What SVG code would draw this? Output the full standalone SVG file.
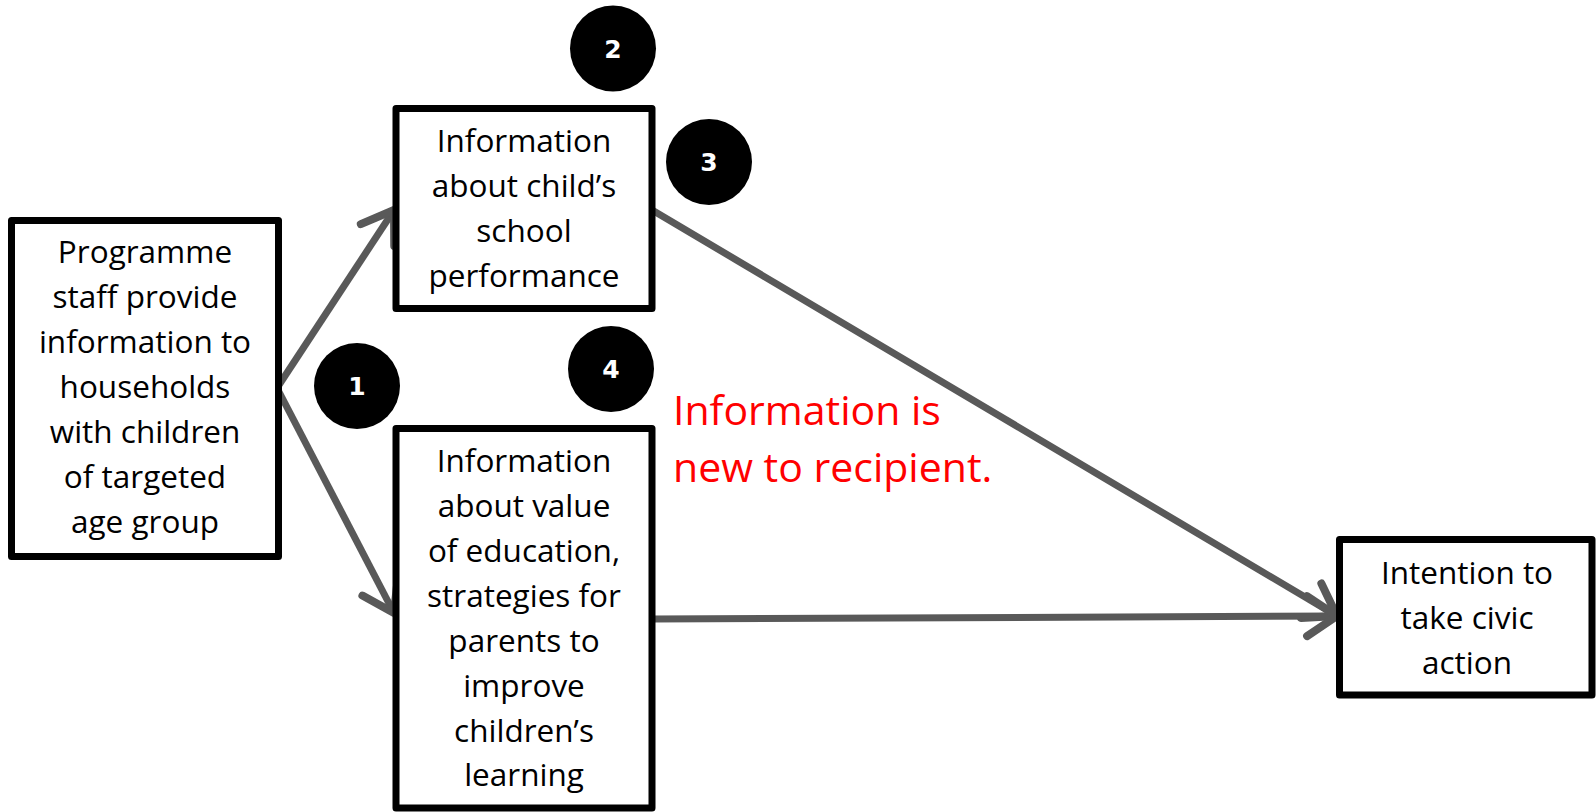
<svg xmlns="http://www.w3.org/2000/svg" width="1596" height="812" viewBox="0 0 1596 812">
<style>
.box{fill:#fff;stroke:#000;stroke-width:7;stroke-linejoin:round}
.t{font-family:"Open Sans","Liberation Sans",sans-serif;font-size:31.5px;fill:#000;text-anchor:middle}
.red{font-family:"Open Sans","Liberation Sans",sans-serif;font-size:41px;fill:#ff0000}
.conn{fill:none;stroke:#595959;stroke-width:7}
.badge{fill:#000}
.num{font-family:"DejaVu Sans",Verdana,sans-serif;font-weight:bold;font-size:25px;fill:#fff;text-anchor:middle}
</style>
<defs>
<marker id="arr" markerUnits="userSpaceOnUse" orient="auto" markerWidth="60" markerHeight="60" refX="0" refY="0" viewBox="-40 -30 50 60" overflow="visible">
<path d="M-30,-20 L0,0 L-30,20" fill="none" stroke="#595959" stroke-width="8" stroke-linecap="round" stroke-linejoin="round"/>
</marker>
</defs>
<g id="connectors">
<path class="conn" d="M277,388 L394,210" marker-end="url(#arr)"/>
<path class="conn" d="M277,388 L394,613" marker-end="url(#arr)"/>
<path class="conn" d="M652,210 L1337,616" marker-end="url(#arr)"/>
<path class="conn" d="M653,619 L1337,616" marker-end="url(#arr)"/>
</g>
<g id="node-programme">
<rect class="box" x="11.5" y="220.5" width="267" height="336"/>
<text class="t" x="145" y="263">Programme</text>
<text class="t" x="145" y="308">staff provide</text>
<text class="t" x="145" y="353">information to</text>
<text class="t" x="145" y="398">households</text>
<text class="t" x="145" y="443">with children</text>
<text class="t" x="145" y="488">of targeted</text>
<text class="t" x="145" y="533">age group</text>
</g>
<g id="node-child-performance">
<rect class="box" x="396" y="108.5" width="256" height="200"/>
<text class="t" x="524" y="151.5">Information</text>
<text class="t" x="524" y="196.5">about child’s</text>
<text class="t" x="524" y="241.5">school</text>
<text class="t" x="524" y="286.5">performance</text>
</g>
<g id="node-value-education">
<rect class="box" x="396" y="428.5" width="256" height="379.5"/>
<text class="t" x="524" y="471.5">Information</text>
<text class="t" x="524" y="516.5">about value</text>
<text class="t" x="524" y="561.5">of education,</text>
<text class="t" x="524" y="606.5">strategies for</text>
<text class="t" x="524" y="651.5">parents to</text>
<text class="t" x="524" y="696.5">improve</text>
<text class="t" x="524" y="741.5">children’s</text>
<text class="t" x="524" y="786">learning</text>
</g>
<g id="node-civic-action">
<rect class="box" x="1339.5" y="539.5" width="252.5" height="155.5"/>
<text class="t" x="1467" y="583.5">Intention to</text>
<text class="t" x="1467" y="628.5">take civic</text>
<text class="t" x="1467" y="673.5">action</text>
</g>
<g id="note-new">
<text class="red" x="673" y="425">Information is</text>
<text class="red" x="673" y="482">new to recipient.</text>
</g>
<g id="badge-1"><circle class="badge" cx="357" cy="386" r="43"/><text class="num" x="357" y="395">1</text></g>
<g id="badge-2"><circle class="badge" cx="613" cy="48.5" r="43"/><text class="num" x="613" y="57.5">2</text></g>
<g id="badge-3"><circle class="badge" cx="709" cy="162" r="43"/><text class="num" x="709" y="171">3</text></g>
<g id="badge-4"><circle class="badge" cx="611" cy="369" r="43"/><text class="num" x="611" y="378">4</text></g>
</svg>
